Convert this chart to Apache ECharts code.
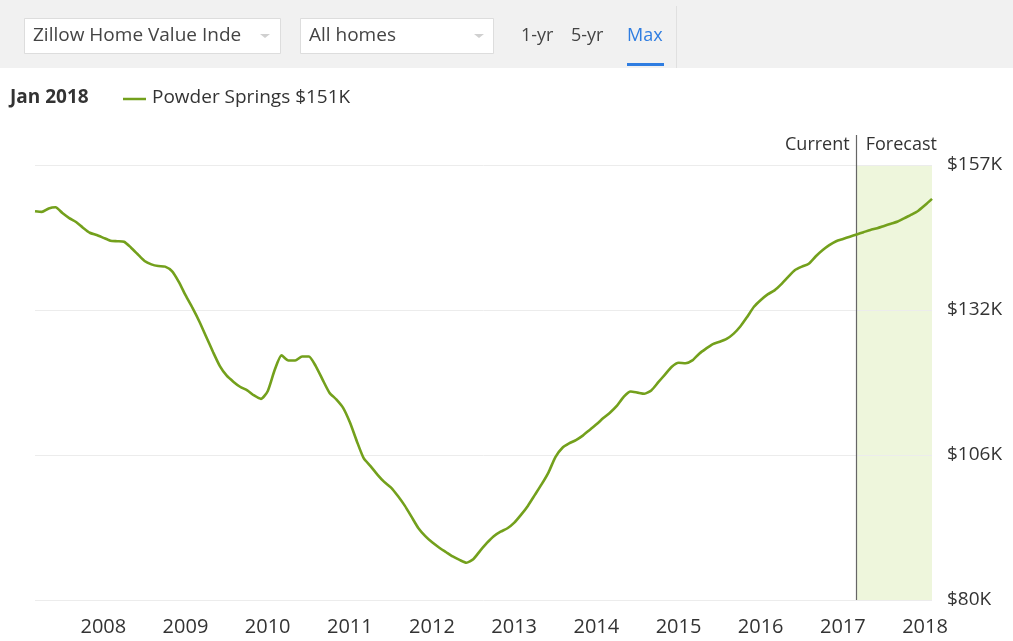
<!DOCTYPE html>
<html>
<head>
<meta charset="utf-8">
<script src="https://cdn.jsdelivr.net/npm/echarts@6/dist/echarts.min.js"></script>
<style>
  html, body { margin: 0; padding: 0; background: #ffffff; }
  #chart { width: 1013px; height: 641px; }
</style>
</head>
<body>
<div id="chart"></div>
<script>
// Monthly Zillow Home Value Index for Powder Springs, Feb 2007 – Jan 2018 (in $K)
const startMonth = [2007, 2];
const monthCount = 132;
const months = [];
for (let k = 0; k < monthCount; k++) {
  const m = startMonth[1] - 1 + k;
  const y = startMonth[0] + Math.floor(m / 12);
  const mm = (m % 12) + 1;
  months.push(y + '-' + (mm < 10 ? '0' + mm : '' + mm));
}

const homeValues = [
  148.8, 148.7, 149.3, 149.5, 148.5, 147.6, 146.9, 145.9, 145.0, 144.6, 144.1, 143.6,
  143.5, 143.4, 142.4, 141.2, 140.0, 139.4, 139.1, 139.0, 138.2, 136.3, 133.9, 131.7,
  129.3, 126.6, 123.9, 121.4, 119.7, 118.6, 117.7, 117.1, 116.2, 115.6, 117.0, 120.7,
  123.3, 122.4, 122.4, 123.1, 123.1, 121.4, 119.0, 116.7, 115.5, 114.0, 111.4, 108.1,
  105.1, 103.7, 102.2, 100.9, 99.9, 98.4, 96.7, 94.7, 92.7, 91.3, 90.2, 89.3,
  88.5, 87.7, 87.1, 86.6, 87.2, 88.7, 90.1, 91.3, 92.1, 92.7, 93.7, 95.1,
  96.7, 98.6, 100.5, 102.6, 105.3, 106.9, 107.7, 108.3, 109.1, 110.1, 111.1, 112.2,
  113.2, 114.4, 116.0, 116.9, 116.7, 116.5, 117.1, 118.5, 119.9, 121.3, 122.0, 121.9,
  122.4, 123.6, 124.5, 125.3, 125.7, 126.2, 127.1, 128.4, 130.1, 131.9, 133.1, 134.1,
  134.8, 135.9, 137.2, 138.4, 139.0, 139.5, 140.8, 141.9, 142.8, 143.5, 143.9, 144.3,
  144.7, 145.1, 145.5, 145.8, 146.2, 146.6, 147.0, 147.6, 148.2, 148.9, 149.9, 151.0
];

// Value-axis gridlines and their labels
const yTickValues = [80, 105.67, 131.33, 157];
const yTickLabels = ['$80K', '$106K', '$132K', '$157K'];

// Forecast window and header
const forecastStart = '2017-02';
const forecastEnd = '2018-01';
const seriesName = 'Powder Springs';
const headerMonth = 'Jan 2018';
const headerValue = '$151K';

const FONT = '"Open Sans", "Noto Sans", sans-serif';
const GREEN = '#73a01c';
const TEXT = '#333333';

// Axis range: the top of the plot leaves room for the Current/Forecast captions
const yMin = 80;
const yMax = 162.3;
const captionValue = 160.5;

const chart = echarts.init(document.getElementById('chart'), null, { renderer: 'canvas' });

const gridLines = yTickValues.map((v, i) => ({
  yAxis: v,
  label: {
    show: true,
    position: 'end',
    distance: 15,
    formatter: yTickLabels[i],
    color: TEXT,
    fontFamily: FONT,
    fontSize: 19
  }
}));

chart.setOption({
  animation: false,
  backgroundColor: '#ffffff',
  grid: { left: 35, right: 81, top: 135, bottom: 41, containLabel: false },
  xAxis: {
    type: 'category',
    data: months,
    boundaryGap: false,
    axisLine: { show: false },
    axisTick: { show: false },
    splitLine: { show: false },
    axisLabel: {
      interval: (idx, val) => val.slice(5) === '01',
      formatter: (val) => val.slice(0, 4),
      color: TEXT,
      fontFamily: FONT,
      fontSize: 20,
      margin: 17,
      padding: [0, 14, 0, 0]
    }
  },
  yAxis: {
    type: 'value',
    min: yMin,
    max: yMax,
    show: false,
    splitLine: { show: false }
  },
  graphic: [
    // control bar
    { type: 'rect', shape: { x: 0, y: 0, width: 1013, height: 68 }, style: { fill: '#f1f1f1' }, silent: true },
    { type: 'line', shape: { x1: 676.5, y1: 6, x2: 676.5, y2: 68 }, style: { stroke: '#e0e0e0', lineWidth: 1 }, silent: true },
    { type: 'rect', shape: { x: 24.5, y: 18.5, width: 256, height: 35 }, style: { fill: '#ffffff', stroke: '#dddddd', lineWidth: 1 } },
    { type: 'text', x: 33, y: 36, style: { text: 'Zillow Home Value Index', width: 214, overflow: 'truncate', ellipsis: '', font: '19px ' + FONT, fill: '#444444', verticalAlign: 'middle' } },
    { type: 'polygon', shape: { points: [[260, 34], [270, 34], [265, 38]] }, style: { fill: '#d0d0d0' } },
    { type: 'rect', shape: { x: 300.5, y: 18.5, width: 193, height: 35 }, style: { fill: '#ffffff', stroke: '#dddddd', lineWidth: 1 } },
    { type: 'text', x: 309, y: 36, style: { text: 'All homes', font: '19px ' + FONT, fill: '#444444', verticalAlign: 'middle' } },
    { type: 'polygon', shape: { points: [[474, 34], [484, 34], [479, 38]] }, style: { fill: '#d0d0d0' } },
    { type: 'text', x: 521, y: 36, style: { text: '1-yr', font: '18px ' + FONT, fill: '#444444', verticalAlign: 'middle' } },
    { type: 'text', x: 571, y: 36, style: { text: '5-yr', font: '18px ' + FONT, fill: '#444444', verticalAlign: 'middle' } },
    { type: 'text', x: 627, y: 36, style: { text: 'Max', font: '18px ' + FONT, fill: '#2f7de1', verticalAlign: 'middle' } },
    { type: 'rect', shape: { x: 627, y: 63, width: 37, height: 3 }, style: { fill: '#2f7de1' } },
    // header
    { type: 'text', x: 10, y: 98, style: { text: headerMonth, font: 'bold 19px ' + FONT, fill: TEXT, verticalAlign: 'middle' } },
    { type: 'line', shape: { x1: 123, y1: 99, x2: 146, y2: 99 }, style: { stroke: GREEN, lineWidth: 2.5 } },
    { type: 'text', x: 152, y: 98, style: { text: seriesName + ' ' + headerValue, font: '19px ' + FONT, fill: TEXT, verticalAlign: 'middle' } }
  ],
  series: [
    {
      name: seriesName,
      type: 'line',
      data: homeValues,
      smooth: 0.2,
      showSymbol: false,
      lineStyle: { color: GREEN, width: 2.6 },
      itemStyle: { color: GREEN },
      z: 5,
      markArea: {
        silent: true,
        itemStyle: { color: '#eef6dc' },
        data: [[{ xAxis: forecastStart, yAxis: yTickValues[0] }, { xAxis: forecastEnd, yAxis: yTickValues[yTickValues.length - 1] }]]
      },
      markLine: {
        silent: true,
        symbol: 'none',
        animation: false,
        lineStyle: { color: '#ececec', width: 1, type: 'solid' },
        data: gridLines.concat([
          {
            xAxis: forecastStart,
            label: { show: false },
            lineStyle: { color: '#666666', width: 1.2, type: 'solid' }
          }
        ])
      },
      markPoint: {
        silent: true,
        symbol: 'rect',
        symbolSize: 0,
        data: [
          { coord: [forecastStart, captionValue], label: { show: true, position: 'left', distance: 7, formatter: 'Current', color: TEXT, fontFamily: FONT, fontSize: 18 } },
          { coord: [forecastStart, captionValue], label: { show: true, position: 'right', distance: 9, formatter: 'Forecast', color: TEXT, fontFamily: FONT, fontSize: 18 } }
        ]
      }
    }
  ]
});
</script>
</body>
</html>
